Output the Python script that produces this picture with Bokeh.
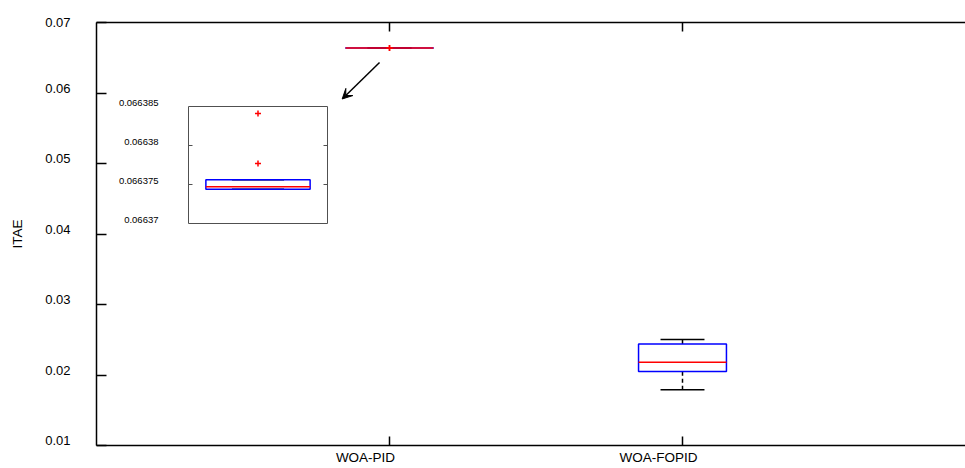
from bokeh.plotting import figure
from bokeh.models import (Range1d, LinearAxis, FixedTicker, ColumnDataSource,
                          LabelSet, Arrow, VeeHead)
from bokeh.core.properties import value
from bokeh.embed import file_html
from bokeh.resources import INLINE

# ---------------- data ----------------
categories = ["WOA-PID", "WOA-FOPID"]
positions = [1, 2]
lower_whisker = [0.0663744, 0.01792]
q1 = [0.0663744, 0.02048]
median = [0.0663747, 0.0218]
q3 = [0.0663756, 0.02441]
upper_whisker = [0.0663756, 0.02503]
outlier_pos = [1, 1]
outlier_val = [0.0663841, 0.0663777]

y_ticks = [0.01, 0.02, 0.03, 0.04, 0.05, 0.06, 0.07]
y_tick_labels = ["0.01", "0.02", "0.03", "0.04", "0.05", "0.06", "0.07"]
inset_ticks = [0.06637, 0.066375, 0.06638, 0.066385]
inset_tick_labels = ["0.06637", "0.066375", "0.06638", "0.066385"]

# ---------------- layout constants ----------------
W, H = 965, 468
FL, FR, FT, FB = 96, 965, 22, 445          # frame edges (px)
PX_PER_CAT = 293.0
X_START = 0.0
X_END = (FR - FL) / PX_PER_CAT
Y0, Y1 = 0.01, 0.07
BOX_HALF = 0.15
CAP_HALF = 0.075
YLAB_SHIFT_PX = 5      # y tick labels sit a little above their ticks
XLAB_SHIFT_PX = 24     # x tick labels sit a little left of their ticks

# inset geometry (px) and its data window
IN_L, IN_R, IN_T, IN_B = 188, 327, 106, 223
IX0, IX1 = 0.8, 1.2
IY0, IY1 = 0.06637, 0.066385
kx = (IX1 - IX0) / (IN_R - IN_L)
ky = (IY1 - IY0) / (IN_B - IN_T)
inset_x_range = Range1d(IX0 - (IN_L - FL) * kx, IX1 + (FR - IN_R) * kx)
inset_y_range = Range1d(IY0 - (FB - IN_B) * ky, IY1 + (IN_T - FT) * ky)

kmain_y = (Y1 - Y0) / (FB - FT)
ylab_range = Range1d(Y0 - YLAB_SHIFT_PX * kmain_y, Y1 - YLAB_SHIFT_PX * kmain_y)
xlab_range = Range1d(X_START + XLAB_SHIFT_PX / PX_PER_CAT,
                     X_END + XLAB_SHIFT_PX / PX_PER_CAT)

FONT = "Liberation Sans"
BLUE, RED = "#0000ff", "#ff0000"

p = figure(width=W, height=H, x_range=Range1d(X_START, X_END),
           y_range=Range1d(Y0, Y1), output_backend="svg",
           toolbar_location=None, min_border_left=FL, min_border_right=W - FR,
           min_border_top=FT, min_border_bottom=H - FB)
p.extra_x_ranges = {"inset": inset_x_range, "xlab": xlab_range}
p.extra_y_ranges = {"inset": inset_y_range, "ylab": ylab_range}
p.outline_line_color = None
p.xgrid.visible = False
p.ygrid.visible = False
p.background_fill_color = "white"
p.border_fill_color = "white"

def style_axis(ax, ticks, tick_in):
    # tick-mark-only axis: its labels are empty (the shifted label axes carry the text)
    ax.ticker = FixedTicker(ticks=ticks)
    ax.minor_tick_line_color = None
    ax.major_tick_in = tick_in
    ax.major_tick_out = 0
    ax.major_tick_line_width = 1.5
    ax.axis_line_width = 1.5
    ax.axis_line_color = "black"
    ax.major_tick_line_color = "black"
    ax.major_label_overrides = {t: "" for t in ticks}
    ax.major_label_text_font_size = "0px"
    ax.major_label_standoff = 0

style_axis(p.yaxis[0], y_ticks, 10)
style_axis(p.xaxis[0], positions, 9)
top_axis = LinearAxis()
style_axis(top_axis, positions, 9)
p.add_layout(top_axis, "above")

def label_axis(ax, ticks, size, standoff):
    ax.ticker = FixedTicker(ticks=ticks)
    ax.axis_line_color = None
    ax.major_tick_line_color = None
    ax.minor_tick_line_color = None
    ax.major_tick_in = 0
    ax.major_tick_out = 0
    ax.major_label_text_font = FONT
    ax.major_label_text_font_size = size
    ax.major_label_text_color = "black"
    ax.major_label_standoff = standoff

# y tick labels, on a range shifted a few pixels; the top one is kept
# inside the range and relabelled
ylab_ticks = [t for t in y_ticks if t <= ylab_range.end] + [ylab_range.end]
ylab_axis = LinearAxis(y_range_name="ylab")
label_axis(ylab_axis, ylab_ticks, "13px", 26)
ylab_axis.major_label_overrides = {ylab_range.end: y_tick_labels[-1]}
ylab_axis.axis_label = "ITAE"
ylab_axis.axis_label_text_font = FONT
ylab_axis.axis_label_text_font_size = "13.5px"
ylab_axis.axis_label_text_font_style = "normal"
ylab_axis.axis_label_text_color = "black"
ylab_axis.axis_label_standoff = 17
p.add_layout(ylab_axis, "left")

# x tick labels, on a range shifted a few pixels
xlab_axis = LinearAxis(x_range_name="xlab")
label_axis(xlab_axis, positions, "13.5px", 4)
xlab_axis.major_label_overrides = {pos: cat for pos, cat in zip(positions, categories)}
p.add_layout(xlab_axis, "below")

def draw_boxes(src, out_src, **rn):
    p.segment(x0="x", y0="q3", x1="x", y1="uw", source=src, line_color="black",
              line_width=1.5, line_dash="4 3", **rn)
    p.segment(x0="x", y0="lw", x1="x", y1="q1", source=src, line_color="black",
              line_width=1.5, line_dash="4 3", **rn)
    p.segment(x0="cl", y0="uw", x1="cr", y1="uw", source=src, line_color="black",
              line_width=1.5, **rn)
    p.segment(x0="cl", y0="lw", x1="cr", y1="lw", source=src, line_color="black",
              line_width=1.5, **rn)
    p.quad(left="bl", right="br", bottom="q1", top="q3", source=src,
           fill_color=None, line_color=BLUE, line_width=1.5, **rn)
    p.segment(x0="bl", y0="med", x1="br", y1="med", source=src, line_color=RED,
              line_width=1.5, **rn)
    p.scatter(x="x", y="y", source=out_src, marker="cross", size=6,
              line_color=RED, line_width=1.5, **rn)

def box_source(idx):
    return ColumnDataSource(dict(
        x=[positions[i] for i in idx],
        bl=[positions[i] - BOX_HALF for i in idx],
        br=[positions[i] + BOX_HALF for i in idx],
        cl=[positions[i] - CAP_HALF for i in idx],
        cr=[positions[i] + CAP_HALF for i in idx],
        lw=[lower_whisker[i] for i in idx], q1=[q1[i] for i in idx],
        med=[median[i] for i in idx], q3=[q3[i] for i in idx],
        uw=[upper_whisker[i] for i in idx]))

out_src = ColumnDataSource(dict(x=outlier_pos, y=outlier_val))

# main boxes
draw_boxes(box_source([0, 1]), out_src)

# inset frame
rn = dict(x_range_name="inset", y_range_name="inset")
p.quad(left=[IX0], right=[IX1], bottom=[IY0], top=[IY1], fill_color="white",
       line_color="#505050", line_width=1, **rn)
tl = 4 * kx
mid_ticks = inset_ticks[1:-1]
p.segment(x0=[IX0] * len(mid_ticks), y0=mid_ticks, x1=[IX0 + tl] * len(mid_ticks),
          y1=mid_ticks, line_color="#505050", line_width=1, **rn)
p.segment(x0=[IX1] * len(mid_ticks), y0=mid_ticks, x1=[IX1 - tl] * len(mid_ticks),
          y1=mid_ticks, line_color="#505050", line_width=1, **rn)
isrc = ColumnDataSource(dict(y=inset_ticks, t=inset_tick_labels))
p.add_layout(LabelSet(x=IX0, y="y", text="t", source=isrc, x_offset=-30,
                      y_offset=4, text_align="right", text_baseline="middle",
                      text_font=value(FONT), text_font_size="9.5px",
                      text_color="black", **rn))
# PID box redrawn at the inset's zoomed scale (only the PID entry is drawn)
draw_boxes(box_source([0]), out_src, **rn)

# arrow pointing from the PID box to the inset
p.add_layout(Arrow(end=VeeHead(size=10, fill_color="black", line_color="black",
                               line_width=1),
                   x_start=0.966, y_start=0.06433, x_end=0.8385, y_end=0.05915,
                   line_width=1.5, line_color="black"))

open("out.html", "w").write(file_html(p, INLINE))
